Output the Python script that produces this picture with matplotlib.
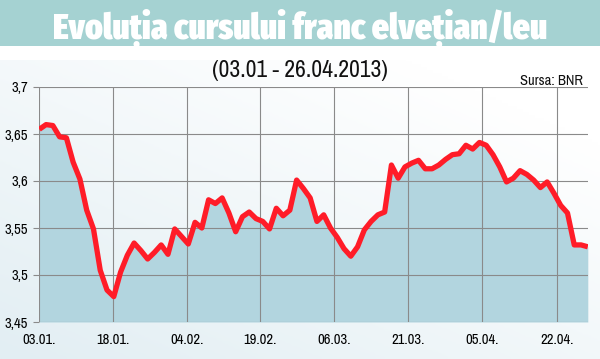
import matplotlib
matplotlib.use('Agg')
import matplotlib.pyplot as plt
import matplotlib.font_manager as fm
import numpy as np
from matplotlib.colors import LinearSegmentedColormap

# date labels (trading days, one label about every 11 days)
tick_labels = ['03.01.', '18.01.', '04.02.', '19.02.', '06.03.', '21.03.', '05.04.', '22.04.']
tick_pos = [0, 10.85, 21.8, 32.6, 43.5, 54.5, 65.4, 76.5]

# CHF/RON, daily BNR rate 03.01 - 26.04.2013
curs = [3.655, 3.660, 3.659, 3.647, 3.646, 3.620, 3.602, 3.569, 3.549, 3.505,
        3.484, 3.477, 3.503, 3.521, 3.534, 3.526, 3.517, 3.524, 3.532, 3.522,
        3.549, 3.541, 3.533, 3.556, 3.550, 3.580, 3.576, 3.582, 3.566, 3.546,
        3.562, 3.567, 3.560, 3.557, 3.549, 3.571, 3.563, 3.569, 3.601, 3.592,
        3.582, 3.557, 3.564, 3.550, 3.540, 3.528, 3.520, 3.530, 3.548, 3.557,
        3.564, 3.567, 3.617, 3.603, 3.615, 3.619, 3.622, 3.613, 3.613, 3.617,
        3.623, 3.628, 3.629, 3.638, 3.634, 3.641, 3.638, 3.628, 3.615, 3.599,
        3.603, 3.611, 3.607, 3.601, 3.593, 3.599, 3.587, 3.574, 3.566, 3.532,
        3.532, 3.530]

y_ticks = [3.45, 3.5, 3.55, 3.6, 3.65, 3.7]
y_labels = ['3,45', '3,5', '3,55', '3,6', '3,65', '3,7']


def pick_font(weight, extra):
    # cauta un font ingust (Narrow / Condensed) cu grosimea ceruta
    best, best_score = None, None
    for f in fm.fontManager.ttflist:
        n = f.name + ' ' + f.fname
        if 'DejaVu' in n:
            continue
        if not ('Narrow' in n or 'Condensed' in n):
            continue
        if f.style != 'normal':
            continue
        wt = f.weight if isinstance(f.weight, int) else fm.weight_dict.get(f.weight, 400)
        score = abs(wt - weight)
        is_extra = 'ExtraCondensed' in n or 'Extra Condensed' in n or 'UltraCondensed' in n
        is_semi = 'SemiCondensed' in n or 'Semi Condensed' in n
        if extra and not is_extra:
            score += 150
        if not extra and (is_extra or is_semi):
            score += 300
        if best_score is None or score < best_score:
            best, best_score = f.fname, score
    if best is None:
        return fm.FontProperties(family='DejaVu Sans', weight='bold' if weight > 600 else 'normal')
    return fm.FontProperties(fname=best)


def fit_width(t, target):
    # potriveste marimea textului dupa latimea din original
    fig.canvas.draw()
    w = t.get_window_extent().width
    t.set_fontsize(t.get_fontsize() * target / w)


fp_title = pick_font(850, True)
fp_text = pick_font(400, False)

fig = plt.figure(figsize=(6, 3.59), dpi=100)

# fundal cu degrade
bg = fig.add_axes([0, 0, 1, 1], zorder=0)
bg.axis('off')
cmap = LinearSegmentedColormap.from_list('bg', ['#e2eef3', '#ffffff'])
gx, gy = np.meshgrid(np.linspace(0, 1, 200), np.linspace(0, 1, 120))
bg.imshow(np.clip(0.55 * gx + 0.75 * gy, 0, 1), cmap=cmap, aspect='auto',
          extent=[0, 1, 0, 1], origin='lower')
bg.set_xlim(0, 1)
bg.set_ylim(0, 1)
# banda titlu
bg.add_patch(plt.Rectangle((0, 1 - 46 / 359), 1, 46 / 359, color='#a5d2d2', lw=0))
bg.add_patch(plt.Rectangle((0, 1 - 60 / 359), 1, 14 / 359, color='#ffffff', lw=0))

title = fig.text(0.5, 1 - 39 / 359, 'Evoluția cursului franc elvețian/leu', ha='center', va='baseline',
                 color='white', fontproperties=fp_title, fontsize=30)
fit_width(title, 493)

sub = fig.text(0.5, 1 - 77 / 359, '(03.01 - 26.04.2013)', ha='center', va='baseline',
               fontproperties=fp_text, fontsize=13, color='#111111')
fit_width(sub, 175)
src = fig.text(583 / 600, 1 - 85 / 359, 'Sursa: BNR', ha='right', va='baseline',
               fontproperties=fp_text, fontsize=10, color='#111111')
fit_width(src, 63)

ax = fig.add_axes([39.3 / 600, 1 - 322 / 359, 548.5 / 600, 235 / 359], zorder=1)
ax.patch.set_alpha(0)
x = np.arange(len(curs))
ax.fill_between(x, curs, 3.45, color='#b2d5df', lw=0, zorder=1)
ax.plot(x, curs, color='#ff1c28', lw=3.8, solid_joinstyle='round', solid_capstyle='butt', zorder=3)

ax.set_xlim(0, len(curs) - 1)
ax.set_ylim(3.45, 3.7)
ax.set_yticks(y_ticks)
ax.set_yticklabels(y_labels, fontproperties=fp_text, fontsize=10.5)
ax.set_xticks(tick_pos)
ax.set_xticklabels(tick_labels, fontproperties=fp_text, fontsize=10.5)
ax.tick_params(axis='y', length=4, width=0.8, color='#8a8a8a', pad=4)
ax.tick_params(axis='x', length=0, pad=8)
ax.grid(True, color='#8a8a8a', lw=0.8, zorder=2)
ax.set_axisbelow(False)
for s in ax.spines.values():
    s.set_visible(False)

fig.savefig('out.png', dpi=100)
